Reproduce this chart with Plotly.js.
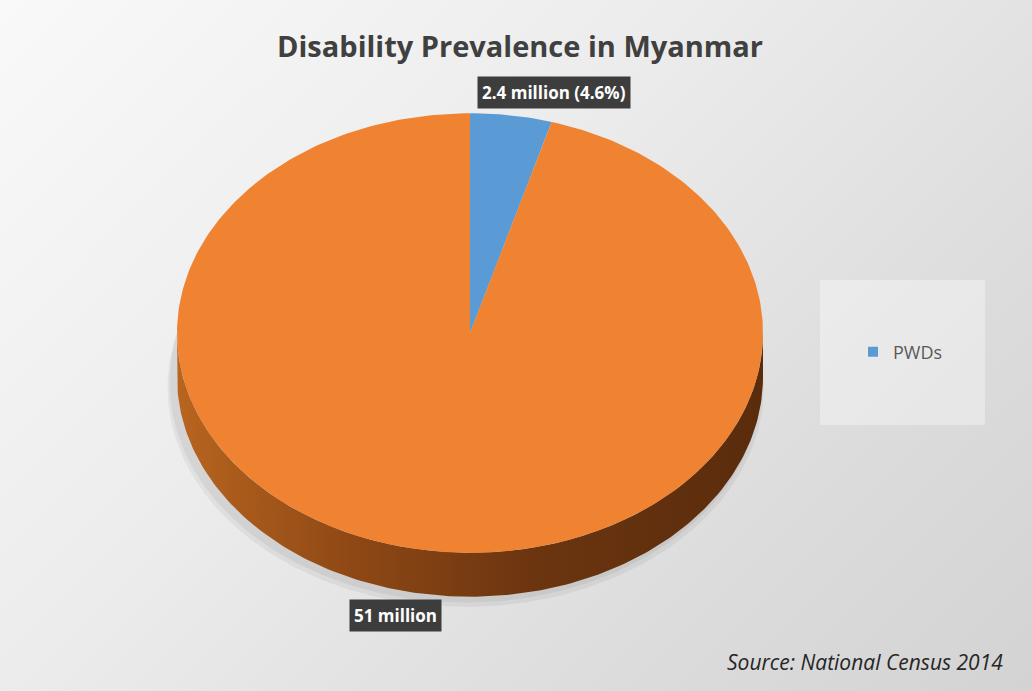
<!DOCTYPE html>
<html>
<head>
<meta charset="utf-8">
<script src="https://cdn.plot.ly/plotly-3.0.1.min.js"></script>
<style>
  html, body { margin: 0; padding: 0; }
  body {
    width: 1032px; height: 691px; overflow: hidden;
    background: linear-gradient(135deg, #f9f9f9 0%, #ececec 40%, #dcdcdc 75%, #d3d3d3 100%);
  }
  #chart { width: 1032px; height: 691px; }
</style>
</head>
<body>
<div id="chart"></div>
<script>
// ---- data ----
const categories = ["PWDs", "Others"];
const values = [2.4, 51];
const labelTexts = ["2.4 million (4.6%)", "51 million"];
const showInLegend = [true, false];

// ---- style ----
const topColors = ["#5b9bd5", "#f08332"];
const sideScales = [
  [[0, "#3f77a8"], [1, "#2d5a82"]],
  [[0, "#b8651f"], [0.3, "#8e4815"], [0.6, "#6c3510"], [1, "#5a2c0c"]]
];
const labelOffsets = [[43, -23], [-33, 21]];
const TILT = 0.75;   // vertical squash of the pie disc
const DEPTH = 0.15;  // thickness of the disc

function pt(thetaDeg, drop) {
  const r = thetaDeg * Math.PI / 180;
  return [Math.sin(r), TILT * Math.cos(r) - (drop || 0)];
}
function arc(a, b, drop) {
  const xs = [], ys = [];
  const n = Math.max(2, Math.ceil(Math.abs(b - a)));
  for (let i = 0; i <= n; i++) {
    const p = pt(a + (b - a) * i / n, drop);
    xs.push(p[0]); ys.push(p[1]);
  }
  return [xs, ys];
}

const total = values.reduce((s, v) => s + v, 0);
const slices = [];
let acc = 0;
values.forEach((v, i) => {
  const start = acc / total * 360;
  acc += v;
  const end = acc / total * 360;
  slices.push({ start, end, mid: (start + end) / 2 });
});

const traces = [];
// soft shadow under the disc
[[0.035, 0.05], [0.02, 0.05]].forEach(([grow, alpha]) => {
  const [xs, ys] = arc(0, 360, DEPTH + grow);
  traces.push({
    x: xs.map(x => x * (1 + grow / 2) - 0.015), y: ys, type: "scatter", mode: "lines",
    fill: "toself", fillcolor: "rgba(0,0,0," + alpha + ")", line: { width: 0 },
    hoverinfo: "skip", showlegend: false
  });
});
// side walls
slices.forEach((s, i) => {
  const a = Math.max(s.start, 90), b = Math.min(s.end, 270);
  if (a >= b) return;
  const up = arc(a, b, 0), low = arc(b, a, DEPTH);
  traces.push({
    x: up[0].concat(low[0]), y: up[1].concat(low[1]),
    type: "scatter", mode: "lines", fill: "toself",
    fillcolor: "#7a3a11",
    fillgradient: { type: "horizontal", colorscale: sideScales[i] },
    line: { width: 0 }, hoverinfo: "skip", showlegend: false
  });
});
// top faces
slices.forEach((s, i) => {
  const [xs, ys] = arc(s.start, s.end, 0);
  traces.push({
    x: [0].concat(xs, [0]), y: [0].concat(ys, [0]),
    type: "scatter", mode: "lines", fill: "toself",
    fillcolor: topColors[i], line: { width: 0 },
    name: categories[i], hoverinfo: "skip", showlegend: false
  });
});
// legend entries
categories.forEach((c, i) => {
  if (!showInLegend[i]) return;
  traces.push({
    x: [null], y: [null], type: "scatter", mode: "markers",
    marker: { symbol: "square", size: 10, color: topColors[i] },
    name: c, showlegend: true, hoverinfo: "skip"
  });
});

const annotations = slices.map((s, i) => {
  const onSide = s.mid > 90 && s.mid < 270;
  const p = pt(s.mid, onSide ? DEPTH : 0);
  return {
    x: p[0], y: p[1], xref: "x", yref: "y",
    text: labelTexts[i], showarrow: true, arrowcolor: "rgba(0,0,0,0)",
    ax: labelOffsets[i][0], ay: labelOffsets[i][1],
    bgcolor: "#3d3d3d", borderpad: 4,
    font: { family: "Open Sans", size: 17, color: "#ffffff", weight: "bold" }
  };
});
annotations.push({
  xref: "paper", yref: "paper", x: 1005 / 1032, y: 29 / 691,
  xanchor: "right", yanchor: "middle", showarrow: false,
  text: "Source: National Census 2014",
  font: { family: "Open Sans", size: 21, color: "#262626", style: "italic" }
});

const layout = {
  width: 1032, height: 691,
  margin: { l: 0, r: 0, t: 0, b: 0 },
  paper_bgcolor: "rgba(0,0,0,0)", plot_bgcolor: "rgba(0,0,0,0)",
  title: {
    text: "Disability Prevalence in Myanmar",
    x: 520 / 1032, y: 1 - 47 / 691, xanchor: "center", yanchor: "middle",
    font: { family: "Open Sans", size: 29, color: "#404040", weight: "bold" }
  },
  xaxis: { range: [-470 / 293, 562 / 293], visible: false, fixedrange: true },
  yaxis: { range: [-358 / 293, 333 / 293], visible: false, fixedrange: true },
  showlegend: true,
  legend: {
    x: 853 / 1032, y: 1 - 352 / 691, xanchor: "left", yanchor: "middle",
    bgcolor: "rgba(0,0,0,0)",
    font: { family: "Open Sans", size: 18, color: "#595959" }
  },
  shapes: [{
    type: "rect", xref: "paper", yref: "paper", layer: "below",
    x0: 820 / 1032, x1: 985 / 1032, y0: 1 - 425 / 691, y1: 1 - 280 / 691,
    fillcolor: "rgba(255,255,255,0.35)", line: { width: 0 }
  }],
  annotations: annotations,
  hovermode: false
};

Plotly.newPlot("chart", traces, layout, { displayModeBar: false, staticPlot: true });
</script>
</body>
</html>
